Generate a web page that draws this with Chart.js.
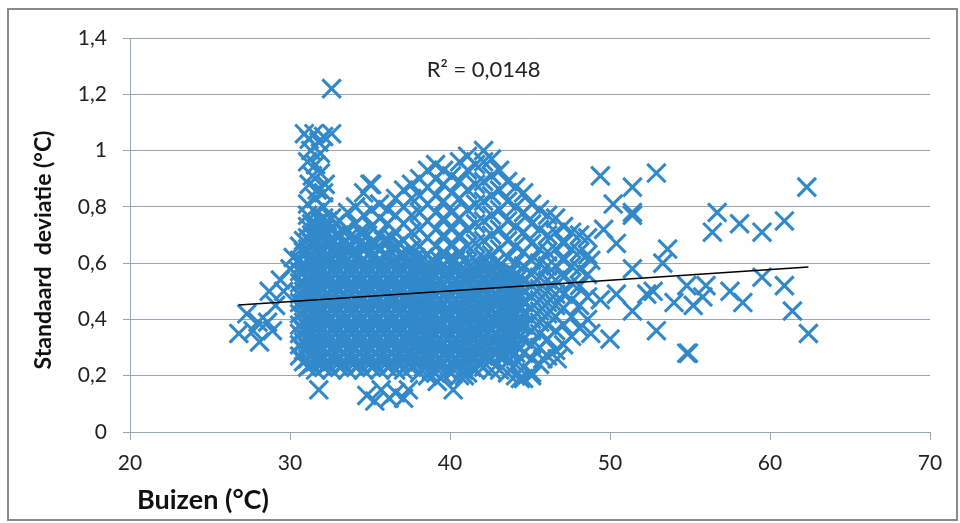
<!DOCTYPE html>
<html>
<head>
<meta charset="utf-8">
<script src="https://cdn.jsdelivr.net/npm/chart.js@4/dist/chart.umd.min.js"></script>
<style>
	html, body { margin: 0; padding: 0; background: #fff; }
	#wrap { width: 960px; height: 523px; position: relative; }
</style>
</head>
<body>
<div id="wrap"><canvas id="c"></canvas></div>
<script>

// dense cloud, read column by column (x = Buizen, y = standaard deviatie)
const colX = [30.6, 31.1, 31.6, 32.1, 32.6, 33.1, 33.6, 34.1, 34.6, 35.1, 35.6, 36.1, 36.6, 37.1, 37.6, 38.1,
	38.6, 39.1, 39.6, 40.1, 40.6, 41.1, 41.6, 42.1, 42.6, 43.1, 43.6, 44.1, 44.6, 45.1, 45.6, 46.1, 46.6, 47.1, 47.6, 48.1, 48.6];

const colY = [
	[0.27, 0.31, 0.35, 0.38, 0.42, 0.46, 0.49, 0.53, 0.57, 0.61, 0.66],
	[0.23, 0.26, 0.30, 0.33, 0.37, 0.40, 0.44, 0.47, 0.51, 0.54, 0.58, 0.61, 0.65, 0.69, 0.73, 0.77, 0.81],
	[0.22, 0.25, 0.29, 0.32, 0.36, 0.39, 0.43, 0.46, 0.50, 0.53, 0.57, 0.60, 0.64, 0.67, 0.71, 0.74, 0.78, 0.83],
	[0.23, 0.27, 0.30, 0.34, 0.37, 0.41, 0.44, 0.48, 0.51, 0.55, 0.58, 0.62, 0.65, 0.69, 0.72, 0.76, 0.80, 0.85],
	[0.22, 0.26, 0.29, 0.33, 0.36, 0.40, 0.43, 0.47, 0.50, 0.54, 0.57, 0.61, 0.64, 0.68, 0.72, 0.76],
	[0.23, 0.27, 0.30, 0.34, 0.37, 0.41, 0.44, 0.48, 0.51, 0.55, 0.58, 0.62, 0.66, 0.70, 0.75],
	[0.22, 0.26, 0.29, 0.33, 0.36, 0.40, 0.43, 0.47, 0.50, 0.54, 0.57, 0.61, 0.66, 0.72, 0.78],
	[0.23, 0.27, 0.30, 0.34, 0.37, 0.41, 0.44, 0.48, 0.51, 0.55, 0.58, 0.62, 0.68, 0.74, 0.80],
	[0.22, 0.26, 0.29, 0.33, 0.36, 0.40, 0.43, 0.47, 0.50, 0.54, 0.57, 0.61, 0.66, 0.71, 0.77, 0.85],
	[0.23, 0.27, 0.30, 0.34, 0.37, 0.41, 0.44, 0.48, 0.51, 0.55, 0.58, 0.62, 0.67, 0.73, 0.79, 0.88],
	[0.22, 0.26, 0.29, 0.33, 0.36, 0.40, 0.43, 0.47, 0.50, 0.54, 0.57, 0.61, 0.65, 0.70, 0.76, 0.81],
	[0.23, 0.27, 0.30, 0.34, 0.37, 0.41, 0.44, 0.48, 0.51, 0.55, 0.58, 0.62, 0.68, 0.74, 0.79],
	[0.22, 0.26, 0.29, 0.33, 0.36, 0.40, 0.43, 0.47, 0.50, 0.54, 0.57, 0.61, 0.66, 0.71, 0.77, 0.83],
	[0.22, 0.27, 0.30, 0.34, 0.37, 0.41, 0.44, 0.48, 0.51, 0.55, 0.58, 0.62, 0.68, 0.74, 0.80, 0.86],
	[0.23, 0.26, 0.29, 0.33, 0.36, 0.40, 0.43, 0.47, 0.50, 0.54, 0.57, 0.61, 0.65, 0.71, 0.77, 0.83, 0.88],
	[0.21, 0.25, 0.29, 0.32, 0.36, 0.39, 0.43, 0.46, 0.50, 0.53, 0.57, 0.60, 0.66, 0.72, 0.78, 0.84, 0.90],
	[0.20, 0.24, 0.27, 0.31, 0.34, 0.38, 0.41, 0.45, 0.48, 0.52, 0.55, 0.59, 0.63, 0.69, 0.75, 0.81, 0.87, 0.93],
	[0.21, 0.25, 0.28, 0.32, 0.35, 0.39, 0.42, 0.46, 0.49, 0.53, 0.56, 0.60, 0.66, 0.72, 0.78, 0.84, 0.90, 0.95],
	[0.20, 0.24, 0.27, 0.31, 0.34, 0.38, 0.41, 0.45, 0.48, 0.52, 0.55, 0.59, 0.64, 0.70, 0.76, 0.82, 0.88, 0.93],
	[0.21, 0.25, 0.28, 0.32, 0.35, 0.39, 0.42, 0.46, 0.49, 0.53, 0.56, 0.60, 0.66, 0.72, 0.78, 0.85, 0.91],
	[0.20, 0.24, 0.27, 0.31, 0.34, 0.38, 0.41, 0.45, 0.48, 0.52, 0.55, 0.59, 0.64, 0.70, 0.76, 0.83, 0.89, 0.96],
	[0.21, 0.25, 0.28, 0.32, 0.35, 0.39, 0.42, 0.46, 0.49, 0.53, 0.56, 0.60, 0.66, 0.72, 0.79, 0.86, 0.93, 0.98],
	[0.22, 0.26, 0.29, 0.33, 0.36, 0.40, 0.43, 0.47, 0.50, 0.54, 0.57, 0.61, 0.67, 0.74, 0.81, 0.88, 0.95],
	[0.23, 0.27, 0.30, 0.34, 0.37, 0.41, 0.44, 0.48, 0.51, 0.55, 0.58, 0.62, 0.68, 0.75, 0.82, 0.89, 0.96, 1.00],
	[0.22, 0.26, 0.29, 0.33, 0.36, 0.40, 0.43, 0.47, 0.50, 0.54, 0.57, 0.63, 0.70, 0.77, 0.84, 0.91, 0.97],
	[0.22, 0.27, 0.30, 0.34, 0.37, 0.41, 0.44, 0.48, 0.51, 0.55, 0.59, 0.65, 0.72, 0.79, 0.86, 0.93],
	[0.21, 0.25, 0.29, 0.32, 0.36, 0.39, 0.43, 0.46, 0.50, 0.53, 0.57, 0.62, 0.68, 0.75, 0.82, 0.89],
	[0.20, 0.24, 0.28, 0.31, 0.35, 0.38, 0.42, 0.45, 0.49, 0.52, 0.56, 0.60, 0.66, 0.73, 0.80, 0.87],
	[0.19, 0.23, 0.28, 0.33, 0.38, 0.42, 0.46, 0.50, 0.54, 0.59, 0.64, 0.71, 0.78, 0.85],
	[0.21, 0.26, 0.31, 0.36, 0.40, 0.44, 0.48, 0.52, 0.56, 0.61, 0.67, 0.74, 0.81],
	[0.24, 0.30, 0.35, 0.39, 0.43, 0.47, 0.51, 0.55, 0.60, 0.65, 0.72, 0.79],
	[0.27, 0.33, 0.38, 0.42, 0.46, 0.50, 0.54, 0.59, 0.64, 0.70, 0.77],
	[0.29, 0.36, 0.41, 0.45, 0.49, 0.54, 0.59, 0.65, 0.71, 0.76],
	[0.31, 0.38, 0.44, 0.49, 0.55, 0.61, 0.67, 0.73],
	[0.34, 0.41, 0.47, 0.53, 0.59, 0.65, 0.71],
	[0.37, 0.45, 0.52, 0.58, 0.64, 0.70],
	[0.40, 0.48, 0.56, 0.63, 0.69]
];

// the solid core, second pass of columns lying between the first ones
const coreX = [30.85, 31.35, 31.85, 32.35, 32.85, 33.35, 33.85, 34.35, 34.85, 35.35, 35.85, 36.35, 36.85,
	37.35, 37.85, 38.35, 38.85, 39.35, 39.85, 40.35, 40.85, 41.35, 41.85, 42.35, 42.85, 43.35, 43.85, 44.35];

const coreY = [
	[0.25, 0.29, 0.32, 0.36, 0.39, 0.43, 0.46, 0.50, 0.53, 0.57, 0.60, 0.64, 0.68],
	[0.24, 0.28, 0.32, 0.35, 0.39, 0.42, 0.46, 0.49, 0.53, 0.56, 0.60, 0.63, 0.67, 0.70, 0.74],
	[0.25, 0.28, 0.31, 0.35, 0.38, 0.42, 0.45, 0.49, 0.52, 0.56, 0.59, 0.63, 0.66, 0.70, 0.75],
	[0.24, 0.28, 0.32, 0.35, 0.39, 0.42, 0.46, 0.49, 0.53, 0.56, 0.60, 0.63, 0.67, 0.71, 0.75],
	[0.25, 0.28, 0.31, 0.35, 0.38, 0.42, 0.45, 0.49, 0.52, 0.56, 0.59, 0.63, 0.66, 0.70, 0.74],
	[0.24, 0.28, 0.32, 0.35, 0.39, 0.42, 0.46, 0.49, 0.53, 0.56, 0.60, 0.63, 0.67, 0.71],
	[0.25, 0.28, 0.31, 0.35, 0.38, 0.42, 0.45, 0.49, 0.52, 0.56, 0.59, 0.63, 0.66, 0.70],
	[0.24, 0.28, 0.32, 0.35, 0.39, 0.42, 0.46, 0.49, 0.53, 0.56, 0.60, 0.63, 0.67, 0.71],
	[0.25, 0.28, 0.31, 0.35, 0.38, 0.42, 0.45, 0.49, 0.52, 0.56, 0.59, 0.63, 0.66, 0.70],
	[0.24, 0.28, 0.32, 0.35, 0.39, 0.42, 0.46, 0.49, 0.53, 0.56, 0.60, 0.63, 0.67],
	[0.25, 0.28, 0.31, 0.35, 0.38, 0.42, 0.45, 0.49, 0.52, 0.56, 0.59, 0.63, 0.68],
	[0.24, 0.28, 0.32, 0.35, 0.39, 0.42, 0.46, 0.49, 0.53, 0.56, 0.60, 0.64, 0.69],
	[0.25, 0.28, 0.31, 0.35, 0.38, 0.42, 0.45, 0.49, 0.52, 0.56, 0.59, 0.63, 0.67],
	[0.24, 0.28, 0.32, 0.35, 0.39, 0.42, 0.46, 0.49, 0.53, 0.56, 0.60, 0.64],
	[0.24, 0.27, 0.31, 0.35, 0.38, 0.42, 0.45, 0.49, 0.52, 0.56, 0.59, 0.62],
	[0.23, 0.27, 0.30, 0.34, 0.37, 0.41, 0.44, 0.48, 0.51, 0.55, 0.58, 0.62],
	[0.22, 0.26, 0.29, 0.33, 0.36, 0.40, 0.43, 0.47, 0.50, 0.54, 0.57, 0.61],
	[0.23, 0.26, 0.30, 0.33, 0.37, 0.40, 0.44, 0.47, 0.51, 0.54, 0.58, 0.61],
	[0.22, 0.26, 0.29, 0.33, 0.36, 0.40, 0.43, 0.47, 0.50, 0.54, 0.57, 0.61],
	[0.23, 0.26, 0.30, 0.33, 0.37, 0.40, 0.44, 0.47, 0.51, 0.54, 0.58, 0.61],
	[0.22, 0.26, 0.29, 0.33, 0.36, 0.40, 0.43, 0.47, 0.50, 0.54, 0.57, 0.61],
	[0.23, 0.27, 0.30, 0.34, 0.37, 0.41, 0.44, 0.48, 0.51, 0.55, 0.58],
	[0.24, 0.28, 0.31, 0.35, 0.38, 0.42, 0.45, 0.49, 0.52, 0.56, 0.59],
	[0.27, 0.31, 0.35, 0.38, 0.42, 0.45, 0.49, 0.52, 0.56, 0.59],
	[0.28, 0.32, 0.35, 0.39, 0.42, 0.46, 0.49, 0.53, 0.56, 0.60],
	[0.27, 0.31, 0.35, 0.38, 0.42, 0.45, 0.49, 0.52, 0.56],
	[0.29, 0.33, 0.36, 0.40, 0.43, 0.47, 0.50, 0.54, 0.57],
	[0.30, 0.34, 0.38, 0.41, 0.45, 0.48, 0.52, 0.55]
];

// loose marks: left tail, the spike near 32, low outliers and the right-hand spread
const looseX = [26.8, 27.3, 27.7, 28.0, 28.1, 28.6, 28.9, 28.7, 29.4, 29.6, 30.0, 30.2, 29.1,
	30.9, 31.2, 31.5, 31.8, 32.1, 32.6, 31.3, 31.9, 31.1, 31.6, 31.4, 31.9, 31.2, 31.7, 32.2, 32.6,
	31.8, 34.8, 35.3, 35.7, 36.2, 36.6, 37.1, 37.4, 39.2, 40.2, 40.9, 44.4, 45.1, 45.8, 46.7, 35.0,
	49.4, 52.9, 51.4, 50.2, 51.4, 53.6, 53.3, 49.6, 50.4, 48.8, 51.4, 52.3, 54.8, 55.2, 52.9, 50.0,
	48.8, 54.8, 51.4, 50.4, 49.4, 48.1, 54.0, 52.7, 51.4,
	56.7, 56.4, 58.1, 59.5, 60.9, 62.3, 59.5, 60.9, 61.4, 62.4, 57.5, 58.3, 55.8, 54.9, 56.0];
const looseY = [0.35, 0.42, 0.36, 0.39, 0.32, 0.39, 0.36, 0.50, 0.54, 0.50, 0.58, 0.62, 0.45,
	1.06, 1.04, 1.06, 1.03, 1.05, 1.06, 1.00, 0.99, 0.96, 0.95, 0.91, 0.92, 0.88, 0.86, 0.88, 1.22,
	0.15, 0.13, 0.11, 0.15, 0.12, 0.14, 0.12, 0.15, 0.18, 0.15, 0.20, 0.19, 0.20, 0.26, 0.26, 0.88,
	0.91, 0.92, 0.87, 0.81, 0.77, 0.65, 0.60, 0.72, 0.67, 0.61, 0.58, 0.49, 0.52, 0.45, 0.36, 0.33,
	0.35, 0.28, 0.43, 0.49, 0.47, 0.37, 0.46, 0.50, 0.78,
	0.78, 0.71, 0.74, 0.71, 0.75, 0.87, 0.55, 0.52, 0.43, 0.35, 0.50, 0.46, 0.48, 0.28, 0.52];

// linear trendline (Excel), end points
const trendX = [26.8, 62.4];
const trendY = [0.451, 0.586];
const rSquared = '0,0148';

const xTicks = [20, 30, 40, 50, 60, 70];
const yTicks = [0, 0.2, 0.4, 0.6, 0.8, 1, 1.2, 1.4];

const blue = 'rgb(50,137,202)';
const gridColor = '#9aa6ae';
const font = 'Lato, "Open Sans", sans-serif';

let points = [];
colX.forEach((x, i) => {
	colY[i].forEach(y => points.push({x: x, y: y}));
});
coreX.forEach((x, i) => {
	coreY[i].forEach(y => points.push({x: x, y: y}));
});
looseX.forEach((x, i) => points.push({x: x, y: looseY[i]}));

const frame = {
	id: 'frame',
	beforeDraw(chart) {
		const ctx = chart.ctx;
		ctx.save();
		ctx.fillStyle = '#fff';
		ctx.fillRect(0, 0, chart.width, chart.height);
		ctx.strokeStyle = '#8a8a8a';
		ctx.lineWidth = 2;
		ctx.strokeRect(8, 9, 949, 511);
		ctx.restore();
	},
	afterDraw(chart) {
		const ctx = chart.ctx;
		const xs = chart.scales.x, ys = chart.scales.y;
		ctx.save();
		ctx.fillStyle = '#222';
		ctx.font = '22px ' + font;
		ctx.textAlign = 'center';
		ctx.textBaseline = 'middle';
		ctx.fillText('R² = ' + rSquared, xs.getPixelForValue(42.1), ys.getPixelForValue(1.285));

		// axis titles
		ctx.fillStyle = '#111';
		ctx.font = 'bold 27px ' + font;
		ctx.textAlign = 'left';
		ctx.fillText('Buizen (°C)', 137, 500);

		ctx.translate(44, 250);
		ctx.rotate(-Math.PI / 2);
		ctx.textAlign = 'center';
		ctx.font = 'bold 23px ' + font;
		ctx.fillText('Standaard  deviatie (°C)', 0, 0);
		ctx.restore();
	}
};

new Chart(document.getElementById('c'), {
	type: 'scatter',
	data: {
		datasets: [{
			type: 'line',
			data: trendX.map((x, i) => ({x: x, y: trendY[i]})),
			borderColor: '#000',
			borderWidth: 1.5,
			pointRadius: 0,
			fill: false
		}, {
			data: points,
			pointStyle: 'crossRot',
			pointRadius: 13,
			pointBorderWidth: 3.1,
			borderColor: blue,
			backgroundColor: blue
		}]
	},
	options: {
		responsive: true,
		maintainAspectRatio: false,
		animation: false,
		devicePixelRatio: 1,
		layout: { padding: { left: 0, top: 38, right: 30, bottom: 0 } },
		plugins: { legend: { display: false }, tooltip: { enabled: false } },
		scales: {
			x: {
				type: 'linear',
				min: 20, max: 70,
				afterBuildTicks: s => { s.ticks = xTicks.map(v => ({value: v})); },
				afterFit: s => { s.height = 91; },
				grid: { drawOnChartArea: false, drawTicks: true, tickLength: 8, tickColor: gridColor },
				border: { display: true, color: gridColor, width: 1 },
				ticks: { color: '#222', font: { family: font, size: 21 }, padding: 11, maxRotation: 0 }
			},
			y: {
				min: 0, max: 1.4,
				afterBuildTicks: s => { s.ticks = yTicks.map(v => ({value: v})); },
				afterFit: s => { s.width = 130; },
				grid: { color: gridColor, tickLength: 7, lineWidth: 1 },
				border: { display: true, color: gridColor, width: 1 },
				ticks: {
					color: '#222', font: { family: font, size: 21 }, padding: 16,
					callback: v => String(Math.round(v * 10) / 10).replace('.', ',')
				}
			}
		}
	},
	plugins: [frame]
});
</script>
</body>
</html>
